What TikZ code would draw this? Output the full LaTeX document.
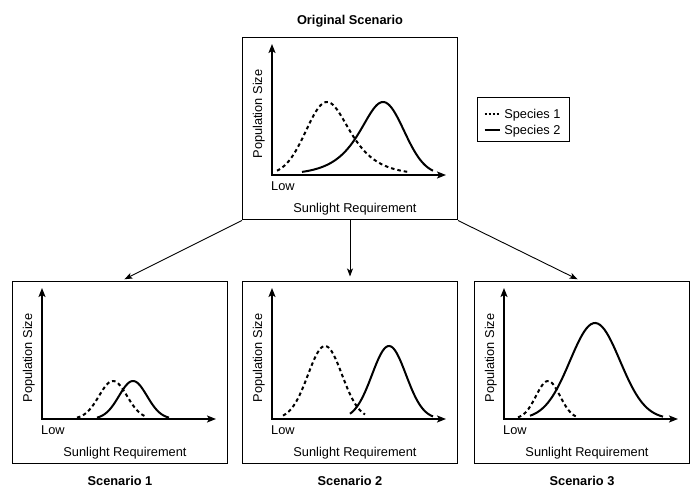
\documentclass[tikz,border=0pt]{standalone}
\usepackage{fontspec}
\setmainfont{Liberation Sans}
\usetikzlibrary{arrows.meta, positioning}

\tikzset{
  panelbox/.style={draw, line width=1pt, minimum width=215pt, minimum height=182pt, inner sep=0pt},
  axis/.style={{Stealth[length=9pt,width=7pt,inset=2pt]}-{Stealth[length=9pt,width=7pt,inset=2pt]}, line width=1.3pt},
  sp1/.style={line width=2pt, dash pattern=on 3.5pt off 3pt, samples=60},
  sp2/.style={line width=2pt, samples=60},
  lbl/.style={font=\fontsize{12.8}{15}\selectfont, inner sep=0pt, text height=9.2pt, text depth=0pt},
  ttl/.style={lbl, font=\fontsize{12.8}{15}\selectfont\bfseries},
  link/.style={-{Stealth[length=8pt,width=6pt,inset=2pt]}, line width=0.9pt, shorten >=5pt},
}

\begin{document}
\begin{tikzpicture}[x=1pt,y=1pt]
  \useasboundingbox (0,0) rectangle (700,502);
  % panels: frame, axes, texts
  \foreach \n/\ox/\oy/\ty/\t in {orig/272/327/155.3/Original Scenario, s1/42/83/-61.5/Scenario 1, s2/272/83/-61.5/Scenario 2, s3/504/83/-61.5/Scenario 3}{
    \begin{scope}[shift={(\ox,\oy)}]
      \node[panelbox] (\n) at (78,46) {};
      \draw[axis] (0,131) |- (174,0);
      \node[lbl, anchor=west] (\n-low) at (-1,-10.5) {Low};
      \node[lbl] (\n-x) at (83,-32.5) {Sunlight Requirement};
      \node[lbl, rotate=90] (\n-y) at (-14.5,61) {Population Size};
      \node[ttl] (\n-title) at (78,\ty) {\t};
    \end{scope}
  }
  % original scenario
  \begin{scope}[shift={(272,327)}]
    \draw[sp1] plot[domain=5:55] (\x,{73*exp(-(\x-55)*(\x-55)/882)})
      -- plot[domain=55:136] (\x,{73/cosh((\x-55)/21)});
    \draw[sp2] plot[domain=30:111] (\x,{73/cosh((\x-111)/21)})
      -- plot[domain=111:161] (\x,{73*exp(-(\x-111)*(\x-111)/882)});
  \end{scope}
  % scenario 1
  \begin{scope}[shift={(42,83)}]
    \draw[sp1,domain=35:105] plot(\x,{38*exp(-(\x-71)*(\x-71)/392)});
    \draw[sp2,domain=55:127] plot(\x,{38*exp(-(\x-91)*(\x-91)/392)});
  \end{scope}
  % scenario 2
  \begin{scope}[shift={(272,83)}]
    \draw[sp1,domain=11:93] plot(\x,{73*exp(-(\x-53)*(\x-53)/578)});
    \draw[sp2,domain=78:161] plot(\x,{73*exp(-(\x-117)*(\x-117)/578)});
  \end{scope}
  % scenario 3
  \begin{scope}[shift={(504,83)}]
    \draw[sp1,domain=14:74] plot(\x,{38*exp(-(\x-44)*(\x-44)/288)});
    \draw[sp2,domain=26:159] plot(\x,{96*exp(-(\x-91)*(\x-91)/1250)});
  \end{scope}
  % legend
  \node[draw, line width=1pt, minimum width=92pt, minimum height=44pt, inner sep=0pt] (legend) at (523,382) {};
  \draw[line width=1.6pt, dash pattern=on 2pt off 2pt] ([xshift=8pt,yshift=6pt]legend.west) -- ++(15,0)
    node[lbl, anchor=west, xshift=4pt] (leg1) {Species 1};
  \draw[line width=1.6pt] ([xshift=8pt,yshift=-10pt]legend.west) -- ++(15,0)
    node[lbl, anchor=west, xshift=4pt] (leg2) {Species 2};
  % arrows
  \draw[link] (orig.south west) -- (s1.north);
  \draw[link] (orig.south) -- (s2.north);
  \draw[link] (orig.south east) -- (s3.north);
\end{tikzpicture}
\end{document}
